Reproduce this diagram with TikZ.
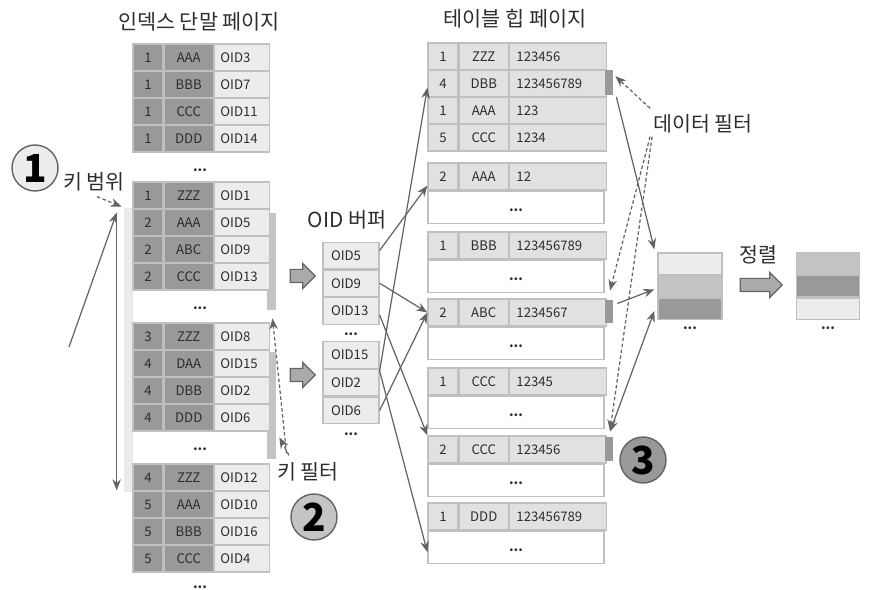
\documentclass[tikz,border=0pt]{standalone}
\usepackage{fontspec}
\setmainfont{Noto Sans CJK KR}
\usetikzlibrary{positioning,calc,arrows.meta,shapes.arrows}
\definecolor{dkcell}{RGB}{153,153,153}
\definecolor{ltcell}{RGB}{236,236,236}
\definecolor{hpcell}{RGB}{225,225,225}
\definecolor{cellline}{RGB}{192,192,192}
\definecolor{bandlt}{RGB}{235,235,235}
\definecolor{bandmd}{RGB}{196,196,196}
\definecolor{arrgray}{RGB}{100,100,100}
\definecolor{blkgray}{RGB}{170,170,170}
\definecolor{txt}{RGB}{45,45,45}

\begin{document}
\begin{tikzpicture}[x=0.02cm,y=-0.02cm,
    cell/.style={draw=cellline,line width=0.7pt,inner sep=0pt,minimum height=0.54cm,text=txt,font=\fontsize{7.5}{9}\selectfont},
    dk/.style={cell,fill=dkcell},
    hp/.style={cell,fill=hpcell},
    wnum/.style={minimum width=0.6cm},
    wkey/.style={minimum width=0.98cm},
    ixoid/.style={cell,fill=ltcell,text width=0.86cm,inner xsep=0.12cm,align=left},
    hval/.style={hp,text width=1.66cm,inner xsep=0.14cm,align=left},
    buf/.style={cell,fill=ltcell,minimum height=0.53cm,text width=0.8cm,inner xsep=0.16cm,align=left},
    hbody/.style={draw=cellline,line width=0.7pt,fill=white,minimum width=3.52cm,minimum height=0.64cm,inner sep=0pt},
    more/.style={text=txt,font=\fontsize{7.5}{9}\bfseries,text height=0.2cm,inner sep=0pt},
    band/.style={minimum width=0.18cm,inner sep=0pt},
    hmark/.style={fill=dkcell,minimum width=0.16cm,inner sep=0pt},
    strip/.style={draw=cellline,line width=0.7pt,minimum width=1.28cm,minimum height=0.427cm,inner sep=0pt},
    lbl/.style={inner sep=0pt,text=txt,font=\fontsize{11.7}{13}\selectfont},
    ttl/.style={inner sep=0pt,text=txt,font=\fontsize{11.8}{14}\selectfont},
    num/.style={circle,draw=arrgray,line width=0.8pt,minimum size=0.92cm,inner sep=0pt,font=\fontsize{22}{22}\bfseries},
    blk/.style={single arrow,draw=arrgray,fill=blkgray,line width=0.7pt,inner xsep=0pt,inner ysep=0.12cm,
      text height=0pt,text depth=0pt,single arrow head extend=0.12cm},
    arr/.style={draw=arrgray,line width=0.7pt,-{Stealth[length=0.22cm,width=0.17cm]}},
    dsh/.style={arr,dash pattern=on 2pt off 1.4pt}]
  \useasboundingbox (0,0) rectangle (874,590);

  % titles
  \node[ttl] (ixtitle) at (199,22) {인덱스 단말 페이지};
  \node[ttl] (hptitle) at (515,19) {테이블 힙 페이지};
  \node[ttl] (buftitle) at (347,220) {OID 버퍼};

  % key range / key filter bands
  \node[band,fill=bandlt,minimum height=5.68cm] (keyband) at (128.5,350) {};
  \node[band,fill=bandmd,minimum height=1.94cm] (kf1) at (271.5,261.5) {};
  \node[band,fill=bandmd,minimum height=2.14cm] (kf2) at (271.5,405.5) {};

  % index leaf page
  \foreach \yy/\lv/\key/\oid in {57.5/1/AAA/OID3, 84.5/1/BBB/OID7, 111.5/1/CCC/OID11, 138.5/1/DDD/OID14,
      195.5/1/ZZZ/OID1, 222.5/2/AAA/OID5, 249.5/2/ABC/OID9, 276.5/2/CCC/OID13,
      336.5/3/ZZZ/OID8, 363.5/4/DAA/OID15, 390.5/4/DBB/OID2, 417.5/4/DDD/OID6,
      477.5/4/ZZZ/OID12, 504.5/5/AAA/OID10, 531.5/5/BBB/OID16, 558.5/5/CCC/OID4} {
    \node[dk,wnum] (n\oid) at (148,\yy) {\lv};
    \node[dk,wkey,right=0pt of n\oid] (k\oid) {\key};
    \node[ixoid,right=0pt of k\oid] (\oid) {\oid};
  }
  \foreach \yy in {167,305,446,584}
    \node[more] at (200,\yy) {...};

  % OID buffer
  \node[buf] (b5) at (351,255.5) {OID5};
  \node[buf,below=0pt of b5] (b9) {OID9};
  \node[buf,below=0pt of b9] (b13) {OID13};
  \node[more] at (351,331) {...};
  \node[buf] (b15) at (351,355) {OID15};
  \node[buf,below=0pt of b15] (b2) {OID2};
  \node[buf,below=0pt of b2] (b6) {OID6};
  \node[more] at (351,431) {...};

  \node[blk,minimum height=0.5cm] (a1) at (299.5,276) {};
  \node[blk,minimum height=0.5cm] (a2) at (299.5,375) {};

  % table heap pages
  \foreach \r/\yy/\lv/\key/\val in {1/56.5/1/ZZZ/123456, 2/83.5/4/DBB/123456789, 3/110.5/1/AAA/123, 4/137.5/5/CCC/1234} {
    \node[hp,wnum] (t\r) at (443,\yy) {\lv};
    \node[hp,wkey,right=0pt of t\r] (tk\r) {\key};
    \node[hval,right=0pt of tk\r] (tv\r) {\val};
  }
  \foreach \pg/\yy/\lv/\key/\val in {2/176.5/2/AAA/12, 3/245.5/1/BBB/123456789, 4/312.5/2/ABC/1234567,
      5/381.5/1/CCC/12345, 6/449.5/2/CCC/123456, 7/516.5/1/DDD/123456789} {
    \node[hp,wnum] (p\pg) at (443,\yy) {\lv};
    \node[hp,wkey,right=0pt of p\pg] (pk\pg) {\key};
    \node[hval,right=0pt of pk\pg] (pv\pg) {\val};
    \node[hbody,anchor=north west] (pd\pg) at (p\pg.south west) {};
    \node[more] at ($(pd\pg.center)+(0,-1)$) {...};
  }
  \node[hmark,minimum height=0.5cm] (m1) at (609,83) {};
  \node[hmark,minimum height=0.46cm] (m4) at (609,311.5) {};
  \node[hmark,minimum height=0.48cm] (m6) at (609,449) {};

  % result and sort
  \node[strip,fill=ltcell] (ra) at (690,263.7) {};
  \node[strip,fill=bandmd,below=0pt of ra] (rb) {};
  \node[strip,fill=dkcell,below=0pt of rb] (rc) {};
  \node[more] at (690,325) {...};
  \node[blk,minimum height=0.84cm] (a3) at (758,285) {};
  \node[lbl] (sortlbl) at (758,255) {정렬};
  \node[strip,fill=bandmd,minimum width=1.26cm] (sa) at (828,263.7) {};
  \node[strip,fill=dkcell,minimum width=1.26cm,below=0pt of sa] (sb) {};
  \node[strip,fill=ltcell,minimum width=1.26cm,below=0pt of sb] (sc) {};
  \node[more] at (828,325) {...};

  % numbered circles and labels
  \node[num,fill=ltcell] (c1) at (35,168) {1};
  \node[num,fill=bandmd] (c2) at (314,517) {2};
  \node[num,fill=dkcell] (c3) at (643,460) {3};
  \node[lbl] (krlbl) at (94,182) {키 범위};
  \node[lbl] (kflbl) at (308,472) {키 필터};
  \node[lbl] (dflbl) at (703,124) {데이터 필터};

  % key range
  \coordinate (root) at (69,347);
  \coordinate (krtop) at ($(keyband.north west)+(-7,5)$);
  \coordinate (krbot) at ($(keyband.south west)+(-7,-2)$);
  \draw[arr] (root) -- (krtop);
  \draw[arr] (krtop) -- (krbot);
  \draw[dsh] ($(krlbl.south)+(3,5)$) -- ($(keyband.north west)+(-2,-1)$);

  % key filter
  \draw[dsh] ($(kflbl.north west)+(9.5,-9)$) -- ($(kf1.south)+(1,8)$);
  \draw[dsh] ($(kflbl.north west)+(12,-7)$) -- ($(kf2.south east)+(3,-22)$);

  % OID -> heap
  \draw[arr] ($(b5.east)+(0,-5)$) -- ($(p2.south west)+(0,-5)$);
  \draw[arr] (b9.east) -- (p4.west);
  \draw[arr] ($(b13.east)+(0,4)$) -- (p6.north west);
  \draw[arr] ($(b2.north east)+(0,2)$) -- ($(t2.west)+(0,4)$);
  \draw[arr] ($(b2.north east)+(0,2)$) -- ($(pd7.west)+(0,5)$);
  \draw[arr] (b6.east) -- (p4.west);

  % heap -> result
  \draw[arr] ($(m1.south east)+(3,1)$) -- ($(ra.north west)+(-3,-3)$);
  \draw[arr] ($(m4.east)+(4,-8)$) -- ($(rb.west)+(-3,3)$);
  \draw[arr,{Stealth[length=0.22cm,width=0.17cm]}-{Stealth[length=0.22cm,width=0.17cm]}] ($(m6.north)+(1,-5)$) -- ($(rc.west)+(-3,2)$);

  % data filter
  \draw[dsh] ($(dflbl.north west)+(-3,-6)$) -- ($(m1.north east)+(2,6)$);
  \draw[dsh] ($(dflbl.south west)+(-3,3)$) -- ($(m4.north)+(1,-9)$);
  \draw[dsh] ($(dflbl.south west)+(-1,3)$) -- ($(m6.north)+(1,-6)$);
\end{tikzpicture}
\end{document}
